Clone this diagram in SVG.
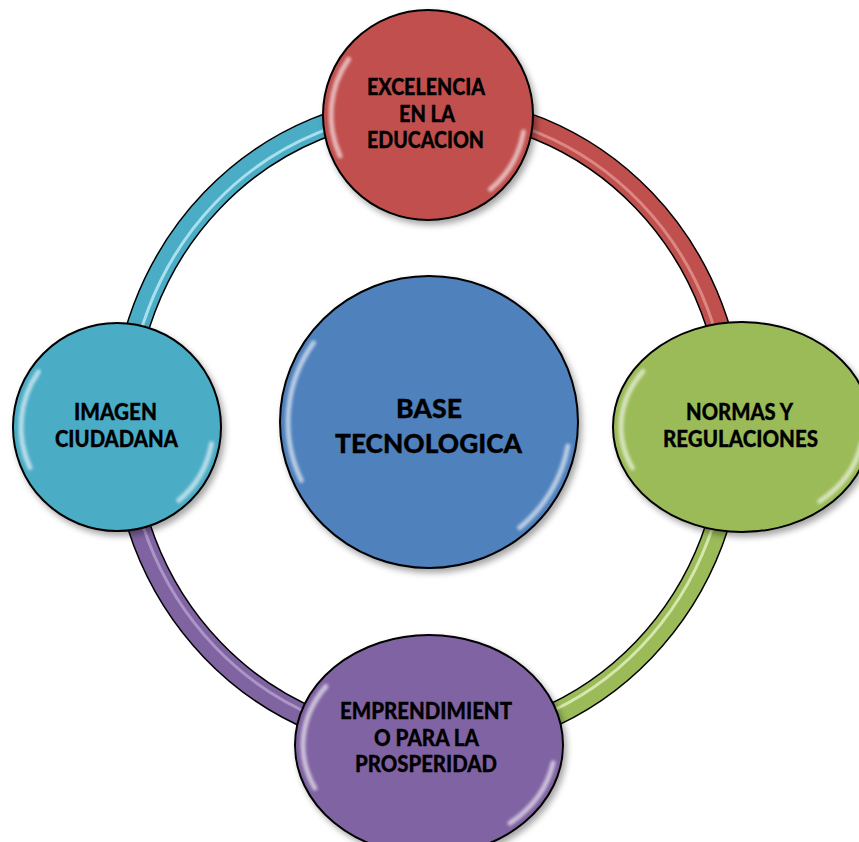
<svg xmlns="http://www.w3.org/2000/svg" width="859" height="842" viewBox="0 0 859 842">
<defs>
<filter id="shadow" x="-20%" y="-20%" width="140%" height="140%">
<feDropShadow dx="3" dy="4" stdDeviation="3" flood-color="#000" flood-opacity="0.35"/>
</filter>
<filter id="soft" x="-20%" y="-20%" width="140%" height="140%">
<feGaussianBlur stdDeviation="1.6"/>
</filter>
</defs>
<style>
.band-edge{fill:none;stroke:#000;stroke-width:24}
.band{fill:none;stroke-width:21}
.band-hl{fill:none;stroke-width:3;opacity:0.75}
.node{stroke:#000;stroke-width:2}
.hl{fill:none;stroke:#fff;stroke-width:5;stroke-linecap:round;opacity:0.6}
.lbl{font-family:"Lato","Open Sans","Liberation Sans",sans-serif;font-weight:900;font-size:22px;fill:#000;stroke:#000;stroke-width:0.3;text-anchor:middle}
.big{font-size:27px}
</style>
<rect width="859" height="842" fill="#fff"/>
<g id="connectors">
<path class="band-edge" d="M 123,425 A 305 318 0 0 1 428,107"/>
<path class="band" stroke="#4BACC6" d="M 123,425 A 305 318 0 0 1 428,107"/>
<path class="band-hl" stroke="#c8f1fa" d="M 127,425 A 301 314 0 0 1 428,111"/>
<path class="band-edge" d="M 428,107 A 305 318 0 0 1 733,425"/>
<path class="band" stroke="#C0504D" d="M 428,107 A 305 318 0 0 1 733,425"/>
<path class="band-hl" stroke="#e59a97" d="M 428,111 A 301 314 0 0 1 729,425"/>
<path class="band-edge" d="M 733,425 A 305 318 0 0 1 428,743"/>
<path class="band" stroke="#9BBB59" d="M 733,425 A 305 318 0 0 1 428,743"/>
<path class="band-hl" stroke="#e8f5c8" d="M 729,425 A 301 314 0 0 1 428,739"/>
<path class="band-edge" d="M 428,743 A 305 318 0 0 1 123,425"/>
<path class="band" stroke="#8064A2" d="M 428,743 A 305 318 0 0 1 123,425"/>
<path class="band-hl" stroke="#b9a5d3" d="M 428,739 A 301 314 0 0 1 127,425"/>
</g>
<g id="node-center">
<ellipse class="node" filter="url(#shadow)" cx="429" cy="422" rx="149" ry="146" fill="#4F81BD"/>
<path class="hl" filter="url(#soft)" d="M 313.5,342.8 A 141 138 0 0 0 301.3,480.4"/>
<path class="hl" filter="url(#soft)" d="M 567.9,446 A 141 138 0 0 1 519.6,527.7"/>
<text class="lbl big" x="429" y="418" textLength="66" lengthAdjust="spacingAndGlyphs">BASE</text>
<text class="lbl big" x="428.5" y="453" textLength="187" lengthAdjust="spacingAndGlyphs">TECNOLOGICA</text>
</g>
<g id="node-top">
<ellipse class="node" filter="url(#shadow)" cx="428" cy="115" rx="105" ry="105" fill="#C0504D"/>
<path class="hl" filter="url(#soft)" d="M 348.6,59.3 A 97 97 0 0 0 340.1,156"/>
<path class="hl" filter="url(#soft)" d="M 523.5,131.9 A 97 97 0 0 1 490.4,189.3"/>
<text class="lbl" x="426" y="95" textLength="118" lengthAdjust="spacingAndGlyphs">EXCELENCIA</text>
<text class="lbl" x="427" y="122" textLength="56" lengthAdjust="spacingAndGlyphs">EN LA</text>
<text class="lbl" x="425.5" y="148" textLength="117" lengthAdjust="spacingAndGlyphs">EDUCACION</text>
</g>
<g id="node-right">
<ellipse class="node" filter="url(#shadow)" cx="742" cy="427" rx="129" ry="105" fill="#9BBB59"/>
<path class="hl" filter="url(#soft)" d="M 642.9,371.3 A 121 97 0 0 0 632.4,468"/>
<path class="hl" filter="url(#soft)" d="M 861.2,443.9 A 121 97 0 0 1 819.8,501.3"/>
<text class="lbl" x="739.5" y="420" textLength="107" lengthAdjust="spacingAndGlyphs">NORMAS Y</text>
<text class="lbl" x="740.5" y="447" textLength="155" lengthAdjust="spacingAndGlyphs">REGULACIONES</text>
</g>
<g id="node-bottom">
<ellipse class="node" filter="url(#shadow)" cx="429" cy="745" rx="134" ry="110" fill="#8064A2"/>
<path class="hl" filter="url(#soft)" d="M 325.8,686.5 A 126 102 0 0 0 314.8,788.1"/>
<path class="hl" filter="url(#soft)" d="M 553.1,762.7 A 126 102 0 0 1 510,823.1"/>
<text class="lbl" x="426" y="719" textLength="172" lengthAdjust="spacingAndGlyphs">EMPRENDIMIENT</text>
<text class="lbl" x="426.5" y="746" textLength="105" lengthAdjust="spacingAndGlyphs">O PARA LA</text>
<text class="lbl" x="426" y="772" textLength="142" lengthAdjust="spacingAndGlyphs">PROSPERIDAD</text>
</g>
<g id="node-left">
<ellipse class="node" filter="url(#shadow)" cx="117" cy="427" rx="104" ry="104" fill="#4BACC6"/>
<path class="hl" filter="url(#soft)" d="M 38.4,371.9 A 96 96 0 0 0 30,467.6"/>
<path class="hl" filter="url(#soft)" d="M 211.5,443.7 A 96 96 0 0 1 178.7,500.5"/>
<text class="lbl" x="115.5" y="420" textLength="83" lengthAdjust="spacingAndGlyphs">IMAGEN</text>
<text class="lbl" x="116.5" y="447" textLength="123" lengthAdjust="spacingAndGlyphs">CIUDADANA</text>
</g>
</svg>
